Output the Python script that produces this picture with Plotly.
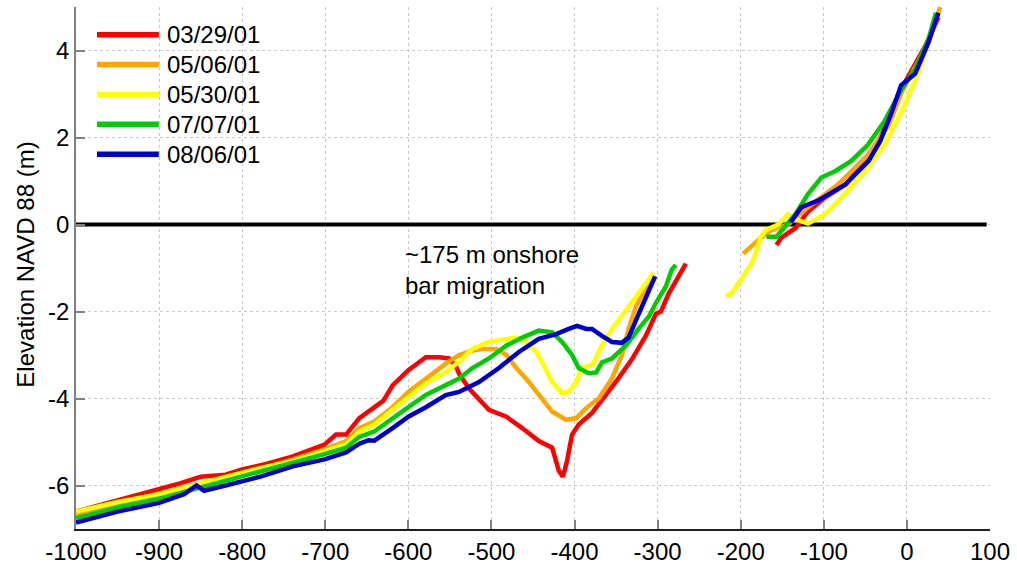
import plotly.graph_objects as go

# ---------------- data ----------------
dates = ["03/29/01", "05/06/01", "05/30/01", "07/07/01", "08/06/01"]
colors = ["#ff0000", "#ffa500", "#ffff00", "#00cc00", "#0000cc"]

# offshore (lower) segments
red_lo_x = [-1000, -980, -955, -930, -900, -875, -850, -820, -800, -770, -739, -720, -701, -687, -675, -659,
            -641, -630, -619, -600, -579, -563, -551, -543, -539, -527, -503, -482, -463, -443, -427,
            -419, -414, -409, -403, -395, -379, -362, -347, -331, -314, -302, -296, -287, -275, -266]
red_lo_y = [-6.6, -6.5, -6.35, -6.25, -6.08, -5.95, -5.8, -5.75, -5.63, -5.5, -5.33, -5.2, -5.06, -4.83, -4.83, -4.45,
            -4.2, -4.05, -3.7, -3.35, -3.05, -3.05, -3.08, -3.25, -3.43, -3.77, -4.26, -4.42, -4.68, -4.98, -5.13,
            -5.66, -5.8, -5.43, -4.83, -4.6, -4.33, -3.92, -3.53, -3.1, -2.55, -2.05, -2.0, -1.6, -1.2, -0.9]
red_hi_x = [-157, -151, -134, -119, -100, -74, -43, -19, -2, 22, 38]
red_hi_y = [-0.47, -0.3, -0.08, 0.3, 0.6, 0.92, 1.6, 2.51, 3.28, 4.1, 4.76]

orange_lo_x = [-1000, -950, -900, -850, -800, -779, -739, -701, -675, -659, -641, -619, -600, -579, -555, -539,
               -523, -511, -494, -482, -470, -455, -443, -427, -410, -398, -386, -371, -355, -343, -335, -326,
               -312, -305]
orange_lo_y = [-6.65, -6.42, -6.18, -5.95, -5.72, -5.62, -5.4, -5.17, -4.98, -4.68, -4.53, -4.2, -3.85, -3.54, -3.2, -3.0,
               -2.9, -2.86, -2.86, -3.0, -3.3, -3.62, -3.92, -4.3, -4.49, -4.45, -4.22, -4.0, -3.54, -3.0, -2.4, -1.88,
               -1.4, -1.2]
orange_hi_x = [-197, -179, -163, -143, -119, -83, -47, -22, -6, 26, 40]
orange_hi_y = [-0.67, -0.36, -0.13, 0.0, 0.4, 0.92, 1.6, 2.28, 3.05, 4.19, 5.0]

yellow_lo_x = [-1000, -950, -900, -850, -800, -779, -739, -701, -675, -659, -641, -619, -600, -579, -555, -539,
               -523, -503, -482, -470, -458, -446, -439, -427, -415, -407, -398, -391, -379, -367, -355, -343,
               -331, -314, -305]
yellow_lo_y = [-6.6, -6.38, -6.2, -5.95, -5.7, -5.6, -5.44, -5.2, -5.05, -4.76, -4.6, -4.26, -3.97, -3.65, -3.4, -3.15,
               -2.86, -2.7, -2.63, -2.6, -2.7, -2.93, -3.17, -3.62, -3.88, -3.85, -3.62, -3.28, -3.24, -2.78, -2.4, -2.1,
               -1.8, -1.35, -1.1]
yellow_hi_x = [-218, -211, -203, -194, -187, -181, -176, -170, -155, -143, -131, -119, -98, -82, -50, -27, -6, 14, 29, 38]
yellow_hi_y = [-1.65, -1.58, -1.35, -1.12, -0.9, -0.6, -0.28, -0.13, 0.0, 0.24, 0.1, 0.02, 0.24, 0.55, 1.23, 1.83,
               2.6, 3.5, 4.33, 4.87]

green_lo_x = [-1000, -950, -900, -850, -800, -779, -739, -701, -675, -659, -641, -619, -600, -579, -555, -539,
              -523, -503, -482, -463, -443, -427, -415, -403, -395, -383, -374, -367, -355, -338, -323, -310,
              -302, -290, -283, -278]
green_lo_y = [-6.75, -6.5, -6.3, -6.05, -5.8, -5.68, -5.47, -5.28, -5.13, -4.88, -4.76, -4.45, -4.2, -3.92, -3.7, -3.54,
              -3.3, -3.08, -2.78, -2.6, -2.44, -2.48, -2.7, -3.0, -3.3, -3.42, -3.4, -3.17, -3.08, -2.78, -2.4, -2.1,
              -1.8, -1.42, -1.04, -0.93]
green_hi_x = [-169, -157, -134, -119, -103, -86, -67, -47, -27, -6, 10, 26, 35]
green_hi_y = [-0.28, -0.28, 0.24, 0.7, 1.08, 1.23, 1.46, 1.83, 2.37, 3.12, 3.58, 4.26, 4.87]

blue_lo_x = [-1000, -950, -900, -870, -855, -846, -820, -800, -779, -739, -701, -675, -659, -648, -641, -619,
             -600, -579, -555, -539, -515, -491, -467, -443, -422, -407, -397, -386, -379, -367, -355, -343,
             -335, -326, -314, -303]
blue_lo_y = [-6.85, -6.6, -6.4, -6.2, -6.0, -6.12, -6.0, -5.9, -5.8, -5.56, -5.4, -5.24, -5.04, -4.96, -4.97, -4.68,
             -4.42, -4.2, -3.92, -3.85, -3.62, -3.3, -2.93, -2.63, -2.52, -2.4, -2.33, -2.4, -2.4, -2.56, -2.7, -2.72,
             -2.6, -2.2, -1.65, -1.19]
blue_hi_x = [-140, -127, -107, -74, -46, -32, -18, -7, 10, 26, 38]
blue_hi_y = [0.05, 0.4, 0.55, 0.92, 1.46, 1.92, 2.6, 3.2, 3.47, 4.19, 4.87]

zero_x = [-1000, 96]
zero_y = [0, 0]

x_ticks = [-1000, -900, -800, -700, -600, -500, -400, -300, -200, -100, 0, 100]
x_ticktext = ["-1000", "-900", "-800", "-700", "-600", "-500", "-400", "-300", "-200", "-100", "0", "100"]
y_ticks = [-6, -4, -2, 0, 2, 4]
y_ticktext = ["-6", "-4", "-2", "0", "2", "4"]

annot_text = "~175 m onshore<br>bar migration"
annot_x, annot_y = -607, -1.05

segments = [
    (red_lo_x, red_lo_y, red_hi_x, red_hi_y),
    (orange_lo_x, orange_lo_y, orange_hi_x, orange_hi_y),
    (yellow_lo_x, yellow_lo_y, yellow_hi_x, yellow_hi_y),
    (green_lo_x, green_lo_y, green_hi_x, green_hi_y),
    (blue_lo_x, blue_lo_y, blue_hi_x, blue_hi_y),
]

# ---------------- figure ----------------
FONT = "Liberation Sans, Arial, sans-serif"
W, H = 1017, 572
ML, MR, MT, MB = 76, 25, 7, 36
PW, PH = W - ML - MR, H - MT - MB

fig = go.Figure()

fig.add_trace(go.Scatter(x=zero_x, y=zero_y, mode="lines",
                         line=dict(color="black", width=4), showlegend=False, hoverinfo="skip"))

for name, col, (lx, ly, hx, hy) in zip(dates, colors, segments):
    fig.add_trace(go.Scatter(x=lx + [None] + hx, y=ly + [None] + hy, mode="lines", name=name,
                             line=dict(color=col, width=4.5), connectgaps=False, showlegend=False))

# manual legend (paper coordinates, like the MATLAB legend box)
def px2paper(px, py):
    return (px - ML) / PW, (MT + PH - py) / PH

leg_x0, leg_x1, leg_text_x = 97, 159, 165
leg_y_first, leg_dy = 35, 30.3
for i, (name, col) in enumerate(zip(dates, colors)):
    py = leg_y_first + i * leg_dy
    x0, yy = px2paper(leg_x0, py)
    x1, _ = px2paper(leg_x1, py)
    xt, _ = px2paper(leg_text_x, py)
    fig.add_shape(type="line", xref="paper", yref="paper", x0=x0, x1=x1, y0=yy, y1=yy,
                  line=dict(color=col, width=5.5))
    fig.add_annotation(xref="paper", yref="paper", x=xt, y=yy, text=name, showarrow=False,
                       xanchor="left", yanchor="middle", font=dict(size=24, color="black", family=FONT))

fig.add_annotation(x=annot_x, y=annot_y, text=annot_text, showarrow=False, xanchor="left",
                   yanchor="middle", align="left", font=dict(size=24, color="black", family=FONT))

# y-axis title
tx, ty = px2paper(25, 268)
fig.add_annotation(xref="paper", yref="paper", x=tx, y=ty, text="Elevation NAVD 88 (m)", textangle=-90,
                   showarrow=False, xanchor="center", yanchor="middle",
                   font=dict(size=24, color="black", family=FONT))

fig.update_layout(
    width=W, height=H,
    margin=dict(l=ML, r=MR, t=MT, b=MB),
    paper_bgcolor="white", plot_bgcolor="white",
    font=dict(family=FONT, size=24, color="black"),
    showlegend=False,
    xaxis=dict(range=[-1000, 100], tickvals=x_ticks, ticktext=x_ticktext, ticks="inside", ticklen=9,
               tickcolor="#808080", tickwidth=1.5, showgrid=True, gridcolor="#c8c8c8", griddash="dot",
               gridwidth=1, showline=True, linecolor="#202020", linewidth=1.5, zeroline=False,
               tickfont=dict(size=24, family=FONT, color="black")),
    yaxis=dict(range=[-7, 5], tickvals=y_ticks, ticktext=y_ticktext, ticks="inside", ticklen=9,
               tickcolor="#808080", tickwidth=1.5, showgrid=True, gridcolor="#c8c8c8", griddash="dot",
               gridwidth=1, showline=True, linecolor="#808080", linewidth=1.5, zeroline=False,
               tickfont=dict(size=24, family=FONT, color="black")),
)

fig.write_html("out.html")
